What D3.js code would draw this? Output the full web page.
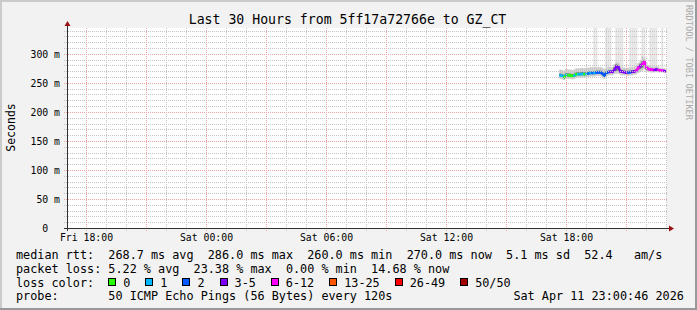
<!DOCTYPE html>
<html><head><meta charset="utf-8">
<script src="https://cdn.jsdelivr.net/npm/d3@7"></script>
<style>
body{margin:0;background:#f2f2f2}
svg{display:block}
text{font-family:"DejaVu Sans Mono",monospace;fill:#000}
</style></head>
<body><svg id="c" width="697" height="310"></svg>
<script>
// ---------- data ----------
const title = "Last 30 Hours from 5ff17a72766e to GZ_CT";
const yTitle = "Seconds";
const watermark = "RRDTOOL / TOBI OETIKER";
const timeStart = "2026-04-10T17:03";
const timeEnd = "2026-04-11T23:03";
const yMax = 344.5;                       // ms
const yTicks = [0, 50, 100, 150, 200, 250, 300];
const xTickTimes = ["2026-04-10T18:00", "2026-04-11T00:00", "2026-04-11T06:00", "2026-04-11T12:00", "2026-04-11T18:00"];
const dataStart = "2026-04-11T17:40";
const stepMinutes = 6;
const median = [263,262,260,264,263,263,262,262.5,265,265,
  265,265.5,265,265.5,266,267,267,267,267.5,268,
  268,266,263,266.5,268.5,269,269,272,278,277,
  270,269,268.5,268,268,268.5,269,269.5,271,276,
  279,282,286,277,274,273,272.5,272,273,272,
  271.5,271,270.5,270];
const coreLo = [261,260,258,262,261,261,260,261,263,263,
  263,264,263,264,264,265,265,265,266,266,
  266,264,261,265,267,267,267,269,271,271,
  268,267,267,266,266,267,267,268,269,272,
  274,276,279,273,272,271,271,271,271,271,
  270,270,269,269];
const coreHi = [266,265,264,267,266,266,265,266,268,268,
  268,269,268,269,269,270,270,270,271,271,
  271,269,267,270,271,272,272,277,282,281,
  273,272,271,271,271,271,272,272,274,279,
  283,287,289,280,276,275,274,274,275,274,
  273,272,272,271];
const smokeLo = [257,256,255,258,257,257,256,257,259,259,
  259,260,259,260,260,261,261,261,262,262,
  262,260,257,261,263,263,263,265,266,266,
  264,263,263,263,262,263,263,264,265,267,
  269,271,273,269,269,268,268,268,269,268,
  268,268,268,267];
const smokeHi = [273,272,271,274,273,273,272,273,275,275,
  275,276,275,276,276,277,277,277,277,277,
  277,276,274,276,277,277,277,282,286,285,
  278,277,276,276,276,277,277,278,279,284,
  288,296,294,286,280,279,278,278,279,278,
  276,275,275,273];
const n = null;
const maxPing = [n,n,n,n,n,n,n,n,n,n,
  n,n,n,n,n,n,n,400,400,n,
  n,n,n,400,400,400,n,n,400,400,
  400,400,n,n,n,400,400,400,400,n,
  n,400,400,n,n,400,400,400,400,n,
  n,400,n,n];
const lossClass = [1,1,1,0,1,0,0,0,1,0,
  1,1,1,0,1,2,1,2,1,2,
  2,2,2,2,2,2,3,3,3,3,
  3,3,3,3,3,2,2,3,3,4,
  4,3,4,4,4,4,4,4,3,3,
  4,4,4,3];
const lossLabels = ["0","1","2","3-5","6-12","13-25","26-49","50/50"];
const lossColors = ["#26ff00","#00b8ff","#0059ff","#7e00ff","#ff00ff","#ff5500","#ff0000","#a10000"];
const legendLines = [
  "median rtt:  268.7 ms avg  286.0 ms max  260.0 ms min  270.0 ms now  5.1 ms sd  52.4   am/s",
  "packet loss: 5.22 % avg  23.38 % max  0.00 % min  14.68 % now",
  "loss color:",
  "probe:       50 ICMP Echo Pings (56 Bytes) every 120s"
];
const stampText = "Sat Apr 11 23:00:46 2026";

// ---------- drawing ----------
const W = 697, H = 310;
const PL = 67, PR = 667, PT = 28, PB = 228;
const parse = d3.timeParse("%Y-%m-%dT%H:%M");
const svg = d3.select("#c");
const x = d3.scaleTime().domain([parse(timeStart), parse(timeEnd)]).range([PL, PR]);
const y = d3.scaleLinear().domain([0, yMax]).range([PB, PT]);

// background + frame
svg.append("rect").attr("width", W).attr("height", H).attr("fill", "#f2f2f2");
svg.append("rect").attr("x", 0).attr("y", 0).attr("width", W).attr("height", 2).attr("fill", "#cbcbcb");
svg.append("rect").attr("x", 0).attr("y", 0).attr("width", 2).attr("height", H).attr("fill", "#cbcbcb");
svg.append("rect").attr("x", 0).attr("y", H - 2).attr("width", W).attr("height", 2).attr("fill", "#999");
svg.append("rect").attr("x", W - 2).attr("y", 0).attr("width", 2).attr("height", H).attr("fill", "#999");

svg.append("rect").attr("x", PL).attr("y", PT).attr("width", PR - PL).attr("height", PB - PT).attr("fill", "#fff");

const defs = svg.append("defs");
defs.append("clipPath").attr("id", "plot").append("rect")
  .attr("x", PL).attr("y", PT).attr("width", PR - PL).attr("height", PB - PT);

const t0 = parse(dataStart);
const pts = median.map((m, i) => ({
  t0: d3.timeMinute.offset(t0, i * stepMinutes),
  t1: d3.timeMinute.offset(t0, (i + 1) * stepMinutes),
  m, cl: coreLo[i], ch: coreHi[i], sl: smokeLo[i], sh: smokeHi[i], mx: maxPing[i], loss: lossClass[i]
}));

const gData = svg.append("g").attr("clip-path", "url(#plot)");
// outlier columns
gData.append("g").selectAll("rect").data(pts.filter(d => d.mx != null)).join("rect")
  .attr("x", d => x(d.t0)).attr("width", d => x(d.t1) - x(d.t0))
  .attr("y", d => y(Math.min(d.mx, yMax))).attr("height", d => y(d.sh) - y(Math.min(d.mx, yMax)))
  .attr("fill", "#e4e4e4");
// outer smoke
gData.append("g").selectAll("rect").data(pts).join("rect")
  .attr("x", d => x(d.t0)).attr("width", d => x(d.t1) - x(d.t0))
  .attr("y", d => y(d.sh)).attr("height", d => y(d.sl) - y(d.sh))
  .attr("fill", "#c6c6c6");
// inner smoke
gData.append("g").selectAll("rect").data(pts).join("rect")
  .attr("x", d => x(d.t0)).attr("width", d => x(d.t1) - x(d.t0))
  .attr("y", d => y(d.ch)).attr("height", d => y(d.cl) - y(d.ch))
  .attr("fill", "#6e6e6e");

// grid
const gGrid = svg.append("g");
const minorCol = "#c4c4c4", majorCol = "#eea4a4";
const minorY = d3.range(10, yMax, 10).filter(v => v % 50 !== 0);
const majorY = yTicks.filter(v => v > 0);
const crisp = v => Math.round(v) + 0.5;
function hLines(vals, col) {
  gGrid.append("g").selectAll("line").data(vals).join("line")
    .attr("x1", PL - 3).attr("x2", PR + 1).attr("y1", d => crisp(y(d))).attr("y2", d => crisp(y(d)))
    .attr("stroke", col).attr("stroke-dasharray", "1,1");
}
function vLines(vals, col) {
  gGrid.append("g").selectAll("line").data(vals).join("line")
    .attr("y1", PT).attr("y2", PB + 3).attr("x1", d => crisp(x(d))).attr("x2", d => crisp(x(d)))
    .attr("stroke", col).attr("stroke-dasharray", "1,1");
}
const hours = d3.timeHour.range(x.domain()[0], x.domain()[1]);
hLines(minorY, minorCol);
vLines(hours.filter(h => h.getHours() % 3 !== 0), minorCol);
hLines(majorY, majorCol);
vLines(hours.filter(h => h.getHours() % 3 === 0), majorCol);

// median line, coloured by loss
const mid = d => new Date((+d.t0 + +d.t1) / 2);
const segs = pts.slice(1).map((d, i) => ({a: pts[i], b: d}));
gData.append("g").selectAll("line").data(segs).join("line")
  .attr("x1", s => x(mid(s.a))).attr("y1", s => y(s.a.m))
  .attr("x2", s => x(mid(s.b))).attr("y2", s => y(s.b.m))
  .attr("stroke", s => lossColors[s.b.loss]).attr("stroke-width", 2.4).attr("stroke-linecap", "square");

// axes lines + arrows
const axisCol = "#303030", arrowCol = "#9a1010";
svg.append("line").attr("x1", PL - 3).attr("x2", PR + 3).attr("y1", PB + 0.5).attr("y2", PB + 0.5).attr("stroke", axisCol);
svg.append("line").attr("x1", PL + 0.5).attr("x2", PL + 0.5).attr("y1", PB + 3).attr("y2", PT - 4).attr("stroke", axisCol);
svg.append("path").attr("d", `M${PR + 2},${PB - 2.5}L${PR + 7},${PB + 0.5}L${PR + 2},${PB + 3.5}Z`).attr("fill", arrowCol);
svg.append("path").attr("d", `M${PL - 2.5},${PT - 2}L${PL + 0.5},${PT - 7}L${PL + 3.5},${PT - 2}Z`).attr("fill", arrowCol);

// x axis labels
const fmt = d3.timeFormat("%a %H:%M");
const xa = svg.append("g").attr("transform", `translate(0,${PB})`)
  .call(d3.axisBottom(x).tickValues(xTickTimes.map(parse)).tickFormat(fmt).tickSize(0));
xa.select(".domain").remove();
xa.selectAll("text").attr("y", 13.3).attr("dy", null)
  .style("font-family", '"DejaVu Sans Mono",monospace').style("font-size", "9.8px").attr("fill", "#000");

// y axis labels
const ya = svg.append("g").attr("transform", `translate(${PL},0)`)
  .call(d3.axisLeft(y).tickValues(yTicks).tickFormat(v => v === 0 ? "0" : `${v} m`).tickSize(0));
ya.select(".domain").remove();
ya.selectAll("text").attr("x", d => d === 0 ? -18.8 : -7).attr("dy", "0.37em")
  .style("font-family", '"DejaVu Sans Mono",monospace').style("font-size", "9.8px").attr("fill", "#000");

// titles
svg.append("text").attr("x", 347.5).attr("y", 24.3).attr("text-anchor", "middle")
  .style("font-size", "13.2px").text(title);
svg.append("text").attr("transform", "translate(15,127.5) rotate(-90)").attr("text-anchor", "middle")
  .style("font-size", "11.5px").text(yTitle);
svg.append("text").attr("transform", "translate(685.5,5) rotate(90)")
  .style("font-size", "8.7px").style("fill", "#ababab").text(watermark);

// legend
const cw = 7.096, fs = "11.8px";
const rowsY = [259.2, 272.9, 286.6, 300.3];
legendLines.forEach((s, i) => {
  svg.append("text").attr("x", 16).attr("y", rowsY[i]).attr("xml:space", "preserve")
    .style("white-space", "pre").style("font-size", fs).text(s);
});
svg.append("text").attr("x", 513.4).attr("y", rowsY[3]).attr("xml:space", "preserve")
  .style("white-space", "pre").style("font-size", fs).text(stampText);
let bx = 16 + 13 * cw;
const items = lossLabels.map((l, i) => {
  const it = {l, c: lossColors[i], bx};
  bx = bx + 15 + l.length * cw + 15;
  return it;
});
const lg = svg.append("g");
lg.selectAll("rect").data(items).join("rect")
  .attr("x", d => Math.round(d.bx) + 0.5).attr("y", 278.5).attr("width", 7).attr("height", 7)
  .attr("fill", d => d.c).attr("stroke", "#000");
lg.selectAll("text").data(items).join("text")
  .attr("x", d => d.bx + 15).attr("y", rowsY[2]).style("font-size", fs).text(d => d.l);
</script>
</body></html>
